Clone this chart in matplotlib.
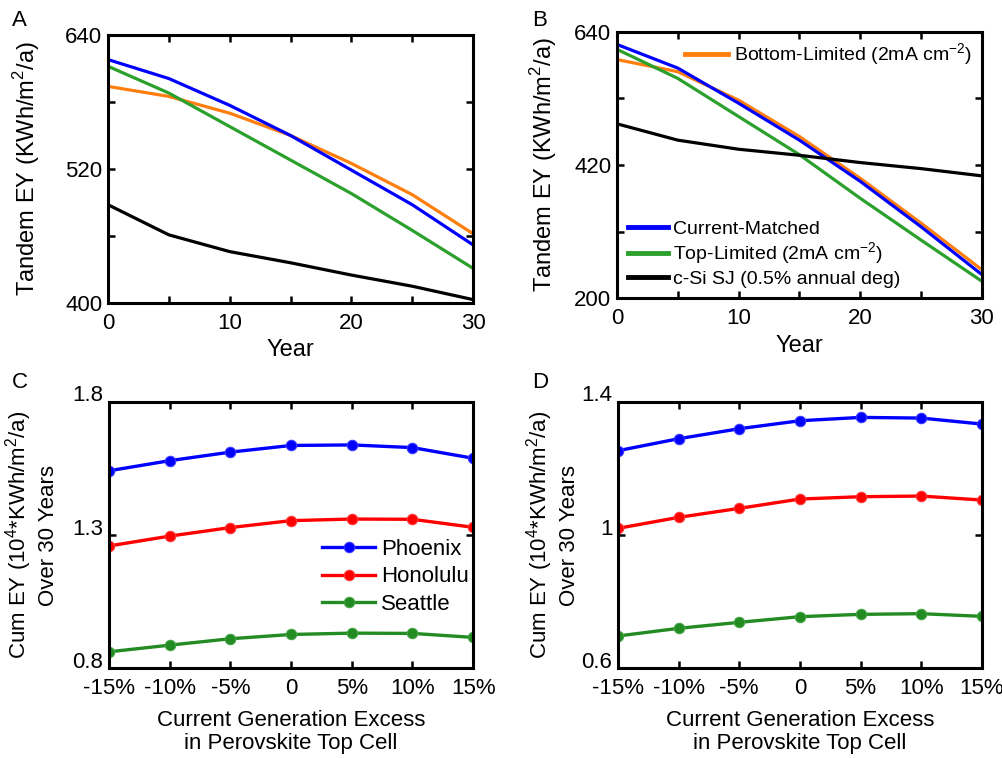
import matplotlib
matplotlib.use("Agg")
import matplotlib.pyplot as plt
from matplotlib.transforms import ScaledTranslation

plt.rcParams['font.family'] = ['Liberation Sans', 'DejaVu Sans']
plt.rcParams['mathtext.fontset'] = 'custom'
plt.rcParams['mathtext.rm'] = 'Liberation Sans'

# Panel A / B: tandem energy yield vs year
years = [0, 5, 10, 15, 20, 25, 30]

a_matched = [618, 601, 577, 550, 519, 488, 452]
a_bottom = [594, 585, 570, 550, 525, 497, 462]
a_top = [612, 588, 558, 528, 498, 465, 431]
a_csi = [488, 461, 446, 436, 425, 415, 403]

b_matched = [619, 580, 522, 461, 393, 318, 239]
b_bottom = [594, 574, 527, 467, 398, 324, 247]
b_top = [611, 563, 500, 437, 365, 296, 228]
b_csi = [488, 461, 446, 436, 424, 414, 402]

# Panel C / D: cumulative EY vs current excess
excess = [-15, -10, -5, 0, 5, 10, 15]
excess_labels = ['-15%', '-10%', '-5%', '0', '5%', '10%', '15%']

c_phoenix = [1.541, 1.579, 1.611, 1.636, 1.638, 1.628, 1.588]
c_honolulu = [1.259, 1.296, 1.328, 1.354, 1.360, 1.359, 1.329]
c_seattle = [0.862, 0.887, 0.911, 0.927, 0.932, 0.931, 0.916]

d_phoenix = [1.253, 1.289, 1.319, 1.343, 1.353, 1.351, 1.333]
d_honolulu = [1.020, 1.053, 1.080, 1.108, 1.115, 1.117, 1.105]
d_seattle = [0.697, 0.720, 0.738, 0.755, 0.762, 0.764, 0.756]

ORANGE = '#ff7f0e'
GREEN = '#2ca02c'
CGREEN = '#228b22'
FS = 16
TFS = 16

fig = plt.figure(figsize=(10.03, 7.58), dpi=100)
axA = fig.add_axes([0.1077, 0.6003, 0.364, 0.3535])
axB = fig.add_axes([0.615, 0.6065, 0.364, 0.3517])
axC = fig.add_axes([0.1087, 0.1183, 0.363, 0.3517])
axD = fig.add_axes([0.616, 0.1183, 0.363, 0.3517])


def style(ax):
    for s in ax.spines.values():
        s.set_linewidth(2.2)
    ax.tick_params(direction='in', top=True, right=True, width=1.8, length=5,
                   labelsize=TFS)
    ax.tick_params(axis='x', pad=7)
    ax.tick_params(axis='y', pad=4)


ylab = 'Tandem EY (KWh/m$^2$/a)'
handles = {}
for ax, m, b, t, c, lo, hi, lp in [(axA, a_matched, a_bottom, a_top, a_csi, 400, 640, 17),
                                   (axB, b_matched, b_bottom, b_top, b_csi, 200, 640, 11)]:
    lb, = ax.plot(years, b, color=ORANGE, lw=2.3, label='Bottom-Limited (2mA cm$^{-2}$)')
    lm, = ax.plot(years, m, color='blue', lw=2.3, label='Current-Matched')
    lt, = ax.plot(years, t, color=GREEN, lw=2.3, label='Top-Limited (2mA cm$^{-2}$)')
    lc, = ax.plot(years, c, color='black', lw=2.3, label='c-Si SJ (0.5% annual deg)')
    handles[ax] = (lb, lm, lt, lc)
    ax.set_xlim(0, 30)
    ax.set_ylim(lo, hi)
    ax.set_xticks(range(0, 31, 5))
    ax.set_xticklabels(['0', '', '10', '', '20', '', '30'])
    step = (hi - lo) / 4
    ax.set_yticks([lo + i * step for i in range(5)])
    ax.set_yticklabels([str(lo), '', str(int(lo + 2 * step)), '', str(hi)])
    ax.set_xlabel('Year', fontsize=FS + 1, labelpad=4)
    ax.set_ylabel(ylab, fontsize=FS + 1, labelpad=lp)
    style(ax)

lb, lm, lt, lc = handles[axB]
leg1 = axB.legend(handles=[lb], loc='upper right', fontsize=14, frameon=False,
                  handlelength=2.2, borderaxespad=0.1, handletextpad=0.3)
for ln in leg1.get_lines():
    ln.set_linewidth(3.5)
axB.add_artist(leg1)
leg2 = axB.legend(handles=[lm, lt, lc], loc='lower left', fontsize=14, frameon=False,
                  handlelength=2.1, borderaxespad=0.15, handletextpad=0.25, labelspacing=0.15)
for ln in leg2.get_lines():
    ln.set_linewidth(3.5)

ylab2 = 'Cum EY (10$^4$*KWh/m$^2$/a)\nOver 30 Years'
for ax, p, h, s, lo, hi, labs, lp in [(axC, c_phoenix, c_honolulu, c_seattle, 0.8, 1.8, ['0.8', '1.3', '1.8'], 10),
                                      (axD, d_phoenix, d_honolulu, d_seattle, 0.6, 1.4, ['0.6', '1', '1.4'], 1)]:
    kw = dict(lw=2.4, marker='o', markersize=7.5, markeredgewidth=0.8)
    ax.plot(excess, p, color='blue', mec='#3a3aff', label='Phoenix', **kw)
    ax.plot(excess, h, color='red', mec='#ff3a3a', label='Honolulu', **kw)
    ax.plot(excess, s, color=CGREEN, mec='#45a545', label='Seattle', **kw)
    ax.set_xlim(-15, 15)
    ax.set_ylim(lo, hi)
    ax.set_xticks(excess)
    ax.set_xticklabels(excess_labels)
    ax.set_yticks([lo, (lo + hi) / 2, hi])
    ax.set_yticklabels(labs)
    ax.set_xlabel('Current Generation Excess\nin Perovskite Top Cell', fontsize=FS, labelpad=8,
                  linespacing=1.1)
    ax.set_ylabel(ylab2, fontsize=FS, labelpad=lp, linespacing=1.25)
    style(ax)
    shift = ScaledTranslation(0, 6 / 72, fig.dpi_scale_trans)
    for lab in ax.get_yticklabels():
        lab.set_transform(lab.get_transform() + shift)

legC = axC.legend(loc='upper left', bbox_to_anchor=(0.585, 0.486), fontsize=FS, frameon=False,
                  handlelength=2.4, handletextpad=0.25, labelspacing=0.3, borderaxespad=0,
                  borderpad=0)

for x, y, t in [(12, 21, 'A'), (532, 21, 'B'), (12, 382, 'C'), (532, 382, 'D')]:
    fig.text(x / 1003, 1 - y / 758, t, fontsize=FS, ha='left', va='center')

fig.savefig('out.png', dpi=100)
